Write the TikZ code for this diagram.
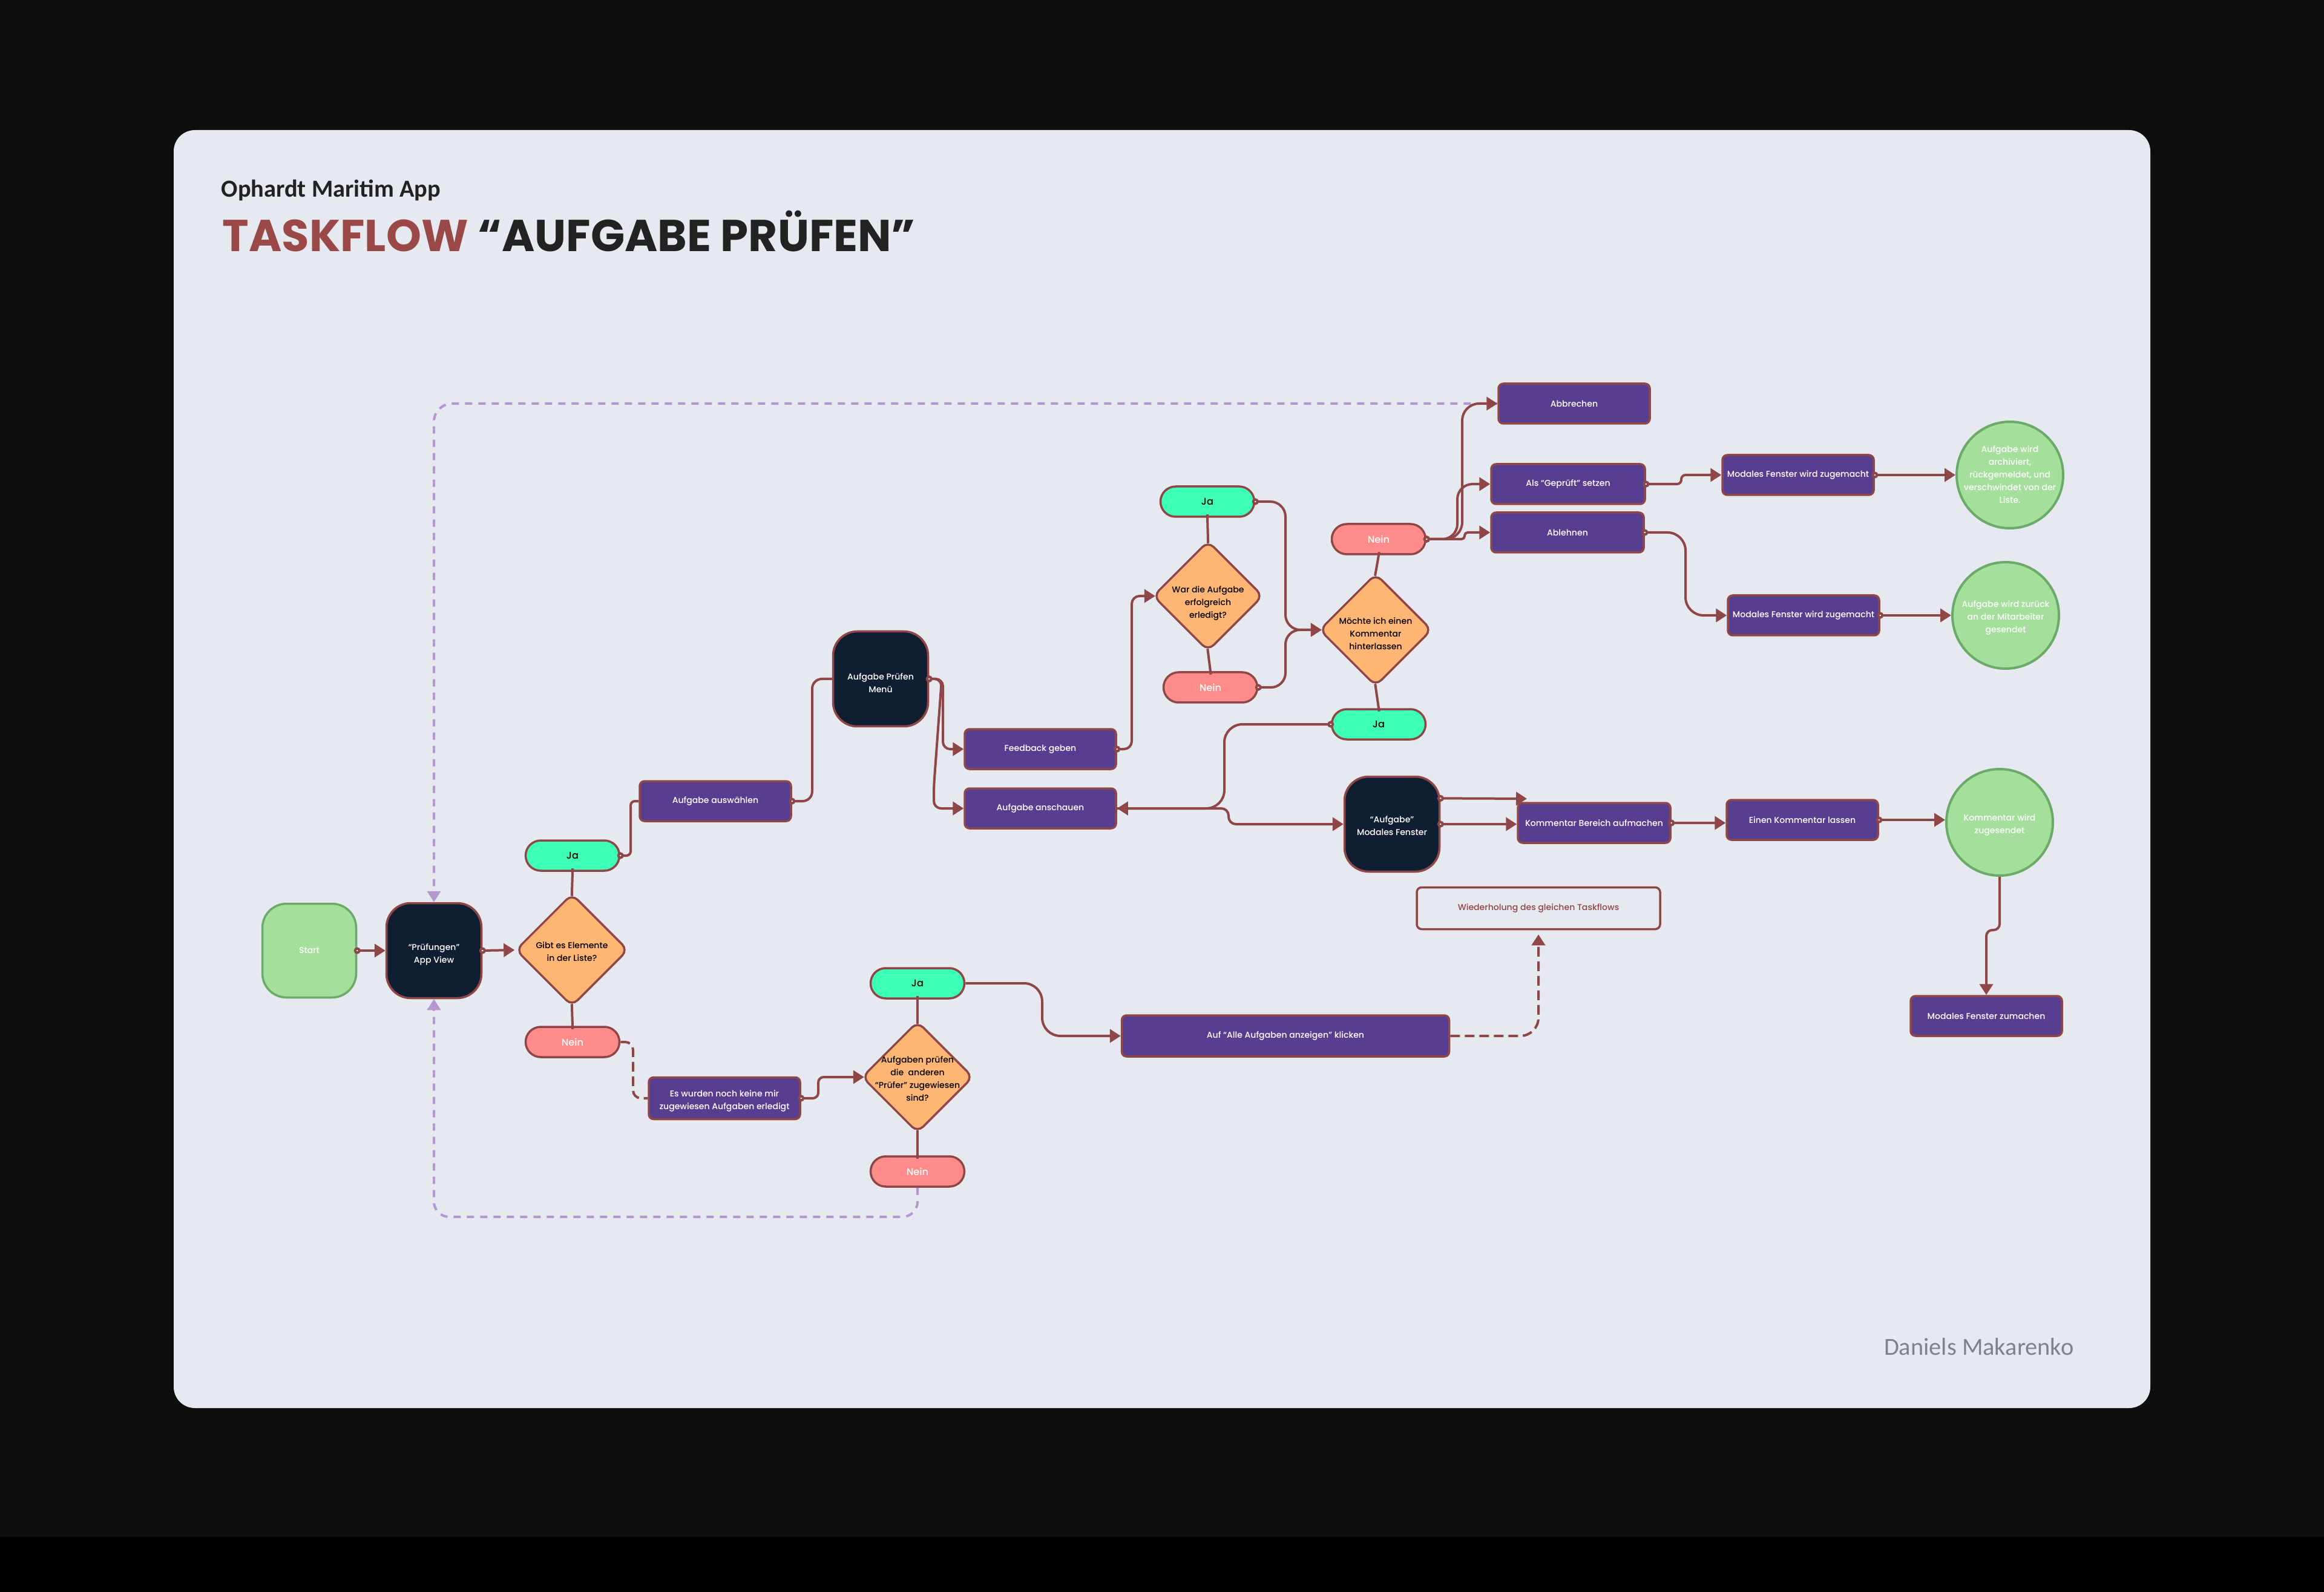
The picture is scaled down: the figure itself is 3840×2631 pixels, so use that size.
\documentclass[tikz,border=0pt]{standalone}
\usepackage{fontspec}
\setmainfont{Poppins}[UprightFont=* Medium,BoldFont=* Bold]
\newfontfamily\calfont{Carlito}
\usetikzlibrary{arrows.meta,shapes.geometric}
\definecolor{tfBg}{HTML}{0E0E0E}
\definecolor{tfCard}{HTML}{E6E9EF}
\definecolor{tfLk}{HTML}{8F4646}
\definecolor{tfPu}{HTML}{573E91}
\definecolor{tfDk}{HTML}{0F1E31}
\definecolor{tfOr}{HTML}{FFB574}
\definecolor{tfJa}{HTML}{3DFFB5}
\definecolor{tfNe}{HTML}{FF8B8A}
\definecolor{tfGr}{HTML}{A4DF9B}
\definecolor{tfGd}{HTML}{6BAA69}
\definecolor{tfLv}{HTML}{B497CF}
\definecolor{tfTi}{HTML}{9A4848}
\definecolor{tfTx}{HTML}{222222}
\definecolor{tfGy}{HTML}{7E838A}
\newcommand{\zeilen}[2][0.8mm]{\makebox[0pt]{\smash{\raisebox{-#1}{\begin{tabular}{@{}c@{}}#2\end{tabular}}}}}

\begin{document}
\begin{tikzpicture}[x=0.1mm,y=-0.1mm,
  every node/.style={font=\fontsize{4}{6}\selectfont},
  box/.style={rectangle,draw=tfLk,line width=0.35mm,rounded corners=0.8mm,fill=tfPu,text=white,minimum width=25mm,minimum height=6.6mm,inner sep=0},
  dbox/.style={rectangle,draw=tfLk,line width=0.35mm,rounded corners=4mm,fill=tfDk,text=white,minimum size=15.7mm,inner sep=0},
  anfang/.style={dbox,draw=tfGd,fill=tfGr,minimum size=15.5mm},
  frage/.style={diamond,draw=tfLk,line width=0.35mm,rounded corners=1.3mm,fill=tfOr,text=black,minimum size=18.6mm,inner sep=0},
  ja/.style={rectangle,draw=tfLk,line width=0.35mm,rounded corners=2.5mm,fill=tfJa,text=black,minimum width=15.5mm,minimum height=5mm,inner sep=0,font=\fontsize{4.6}{6}\selectfont},
  nein/.style={ja,fill=tfNe,text=white},
  ziel/.style={circle,draw=tfGd,line width=0.4mm,fill=tfGr,text=white,minimum size=17.6mm,inner sep=0},
  lk/.style={draw=tfLk,line width=0.4mm,rounded corners=1.5mm},
  lkd/.style={lk,shorten <=-0.55mm,shorten >=-0.55mm},
  ca/.style={lk,{Circle[fill=white,length=1.1mm]}-{Triangle[length=1.8mm,width=2.2mm]},shorten <=-0.55mm},
  cn/.style={lk,{Circle[fill=white,length=1.1mm]}-,shorten <=-0.55mm},
  na/.style={lk,-{Triangle[length=1.8mm,width=2.2mm]}},
  wdh/.style={lk,dash pattern=on 1.6mm off 0.8mm},
  rueck/.style={draw=tfLv,line width=0.4mm,dash pattern=on 1.2mm off 1mm,rounded corners=3mm,-{Triangle[length=1.8mm,width=2.2mm]}}]
\useasboundingbox (0,0) rectangle (3840,2631);
\fill[tfBg] (0,0) rectangle (3840,2631);
\fill[black] (0,2540) rectangle (3840,2631);
\fill[tfCard,rounded corners=3.5mm] (287,215) rectangle (3553,2327);

\node[anchor=base west,inner sep=0,text=tfTx,font=\calfont\bfseries\fontsize{11.5}{14}\selectfont] (untertitel) at (365,326) {Ophardt Maritim App};
\node[anchor=base west,inner sep=0,text=tfTx,font=\bfseries\fontsize{21}{26}\selectfont] (titel) at (367,416) {\textcolor{tfTi}{TASKFLOW} “AUFGABE PRÜFEN”};
\node[anchor=base east,inner sep=0,text=tfGy,font=\calfont\fontsize{11.5}{14}\selectfont] (autor) at (3427,2239) {Daniels Makarenko};

\node[anfang] (start) at (511,1571) {Start};
\node[dbox] (app) at (717,1571) {\zeilen[1mm]{“Prüfungen”\\App View}};
\node[frage] (q1) at (945,1570) {\zeilen{Gibt es Elemente\\in der Liste?}};
\node[ja] (ja1) at (946,1414) {Ja};
\node[nein] (nein1) at (946,1722) {Nein};
\node[box] (ausw) at (1182,1324) {Aufgabe auswählen};
\node[box,minimum height=6.9mm] (keine) at (1197,1815) {\zeilen{Es wurden noch keine mir\\zugewiesen Aufgaben erledigt}};
\node[frage,minimum size=18.4mm] (q2) at (1516,1780) {\zeilen{Aufgaben prüfen\\die~~anderen\\“Prüfer” zugewiesen\\sind?}};
\node[ja] (ja2) at (1516,1625) {Ja};
\node[nein] (nein2) at (1516,1936) {Nein};
\node[box,minimum width=54.1mm,minimum height=6.8mm] (alle) at (2124,1712) {Auf “Alle Aufgaben anzeigen” klicken};
\node[box,fill=none,text=tfLk,minimum width=40.2mm,minimum height=6.9mm] (wied) at (2542,1501) {Wiederholung des gleichen Taskflows};
\node[dbox] (menu) at (1455,1122) {\zeilen[1.2mm]{Aufgabe Prüfen\\Menü}};
\node[box] (feed) at (1719,1238) {Feedback geben};
\node[box] (ansch) at (1719,1336) {Aufgabe anschauen};
\node[ja] (ja3) at (1995,829) {Ja};
\node[frage,minimum size=18.2mm] (q3) at (1996,985) {\zeilen[1.6mm]{War die Aufgabe\\erfolgreich\\erledigt?}};
\node[nein] (nein3) at (2000,1136) {Nein};
\node[nein] (nein4) at (2278,891) {Nein};
\node[frage] (q4) at (2273,1041) {\zeilen[1.2mm]{Möchte ich einen\\Kommentar\\hinterlassen}};
\node[ja] (ja4) at (2278,1197) {Ja};
\node[dbox] (modal) at (2300,1362) {\zeilen{“Aufgabe”\\Modales Fenster}};
\node[box,minimum width=25.2mm] (kber) at (2634,1360) {Kommentar Bereich aufmachen};
\node[box] (klass) at (2978,1355) {Einen Kommentar lassen};
\node[ziel] (kziel) at (3304,1359) {\zeilen{Kommentar wird\\zugesendet}};
\node[box] (mzu) at (3282,1679) {Modales Fenster zumachen};
\node[box] (abbr) at (2601,667) {Abbrechen};
\node[box,minimum width=25.4mm] (gepr) at (2591,800) {Als “Geprüft” setzen};
\node[box,minimum width=25.2mm] (abl) at (2590,880) {Ablehnen};
\node[box] (mwz1) at (2971,785) {Modales Fenster wird zugemacht};
\node[box] (mwz2) at (2980,1017) {Modales Fenster wird zugemacht};
\node[ziel] (ziel1) at (3321,785) {\zeilen[0.5mm]{Aufgabe wird\\archiviert,\\rückgemeldet, und\\verschwindet von der\\Liste.}};
\node[ziel] (ziel2) at (3314,1017) {\zeilen{Aufgabe wird zurück\\an der Mitarbeiter\\gesendet}};
\coordinate (kpfeil) at (2523,1320);

\draw[rueck,rounded corners=2.5mm] (nein2.south) -- (1516,2011) -| (app.south);
\draw[rueck] (abbr.west) -| (app.north);

\draw[ca] (start.east) -- (app.west);
\draw[ca] (app.east) -- (q1.west);
\draw[lkd] (q1.north) -- (ja1.south);
\draw[lkd] (q1.south) -- (nein1.north);
\draw[cn,rounded corners=0.7mm] (ja1.east) -- (1042,1414) |- (ausw.west);
\draw[cn,rounded corners=1.6mm] (ausw.east) -- (1342,1324) |- (menu.west);
\draw[ca,rounded corners=1.2mm] (menu.east) -- (1558,1122) |- (feed.west);
\draw[ca,rounded corners=1.2mm] (menu.east) -- (1556,1122) -- (1543,1300) |- (ansch.west);
\draw[ca,rounded corners=1.3mm,shorten >=-0.55mm] (feed.east) -- (1870,1238) |- (q3.west);
\draw[lkd] (q3.north) -- (ja3.south);
\draw[lkd] (q3.south) -- (nein3.north);
\draw[ca,rounded corners=2.5mm,shorten >=-0.55mm] (ja3.east) -- (2124,829) |- (q4.west);
\draw[ca,rounded corners=2.4mm,shorten >=-0.55mm] (nein3.east) -- (2124,1136) |- (q4.west);
\draw[lkd] (q4.north) -- (nein4.south);
\draw[lkd] (q4.south) -- (ja4.north);
\draw[ca,rounded corners=2.8mm] (nein4.east) -- (2416,891) |- (abbr.west);
\draw[ca,rounded corners=2.5mm] (nein4.east) -- (2408,891) |- (gepr.west);
\draw[ca,rounded corners=0.5mm] (nein4.east) -- (2420,891) |- (abl.west);
\draw[ca,rounded corners=0.7mm] (gepr.east) -- (2778,800) |- (mwz1.west);
\draw[ca,rounded corners=3mm] (abl.east) -- (2785,880) |- (mwz2.west);
\draw[ca] (mwz1.east) -- (ziel1.west);
\draw[ca] (mwz2.east) -- (ziel2.west);
\draw[na,rounded corners=1.2mm] (ansch.east) -- (2030,1336) |- (modal.west);
\draw[ca,rounded corners=3mm] (ja4.west) -- (2023,1197) |- (ansch.east);
\draw[ca] (modal.east) -- (modal.east -| kber.west);
\draw[ca] (modal.28) -- (kpfeil);
\draw[ca] (kber.east) -- (kber.east -| klass.west);
\draw[ca] (klass.east) -- (klass.east -| kziel.west);
\draw[na,rounded corners=1mm] (kziel.south) -- ++(0,88) -| (mzu.north);
\draw[na,rounded corners=3mm] (ja2.east) -- (1722,1625) |- (alle.west);
\draw[ca,rounded corners=0.9mm,shorten >=-0.55mm] (keine.east) -- (1352,1815) |- (q2.west);
\draw[lkd] (q2.north) -- (ja2.south);
\draw[lkd] (q2.south) -- (nein2.north);
\draw[wdh,rounded corners=1.3mm] (nein1.east) -- (1046,1722) |- (keine.west);
\draw[wdh,rounded corners=3mm,-{Triangle[length=1.8mm,width=2.2mm]},shorten >=0.7mm] (alle.east) -| (wied.south);
\end{tikzpicture}
\end{document}
